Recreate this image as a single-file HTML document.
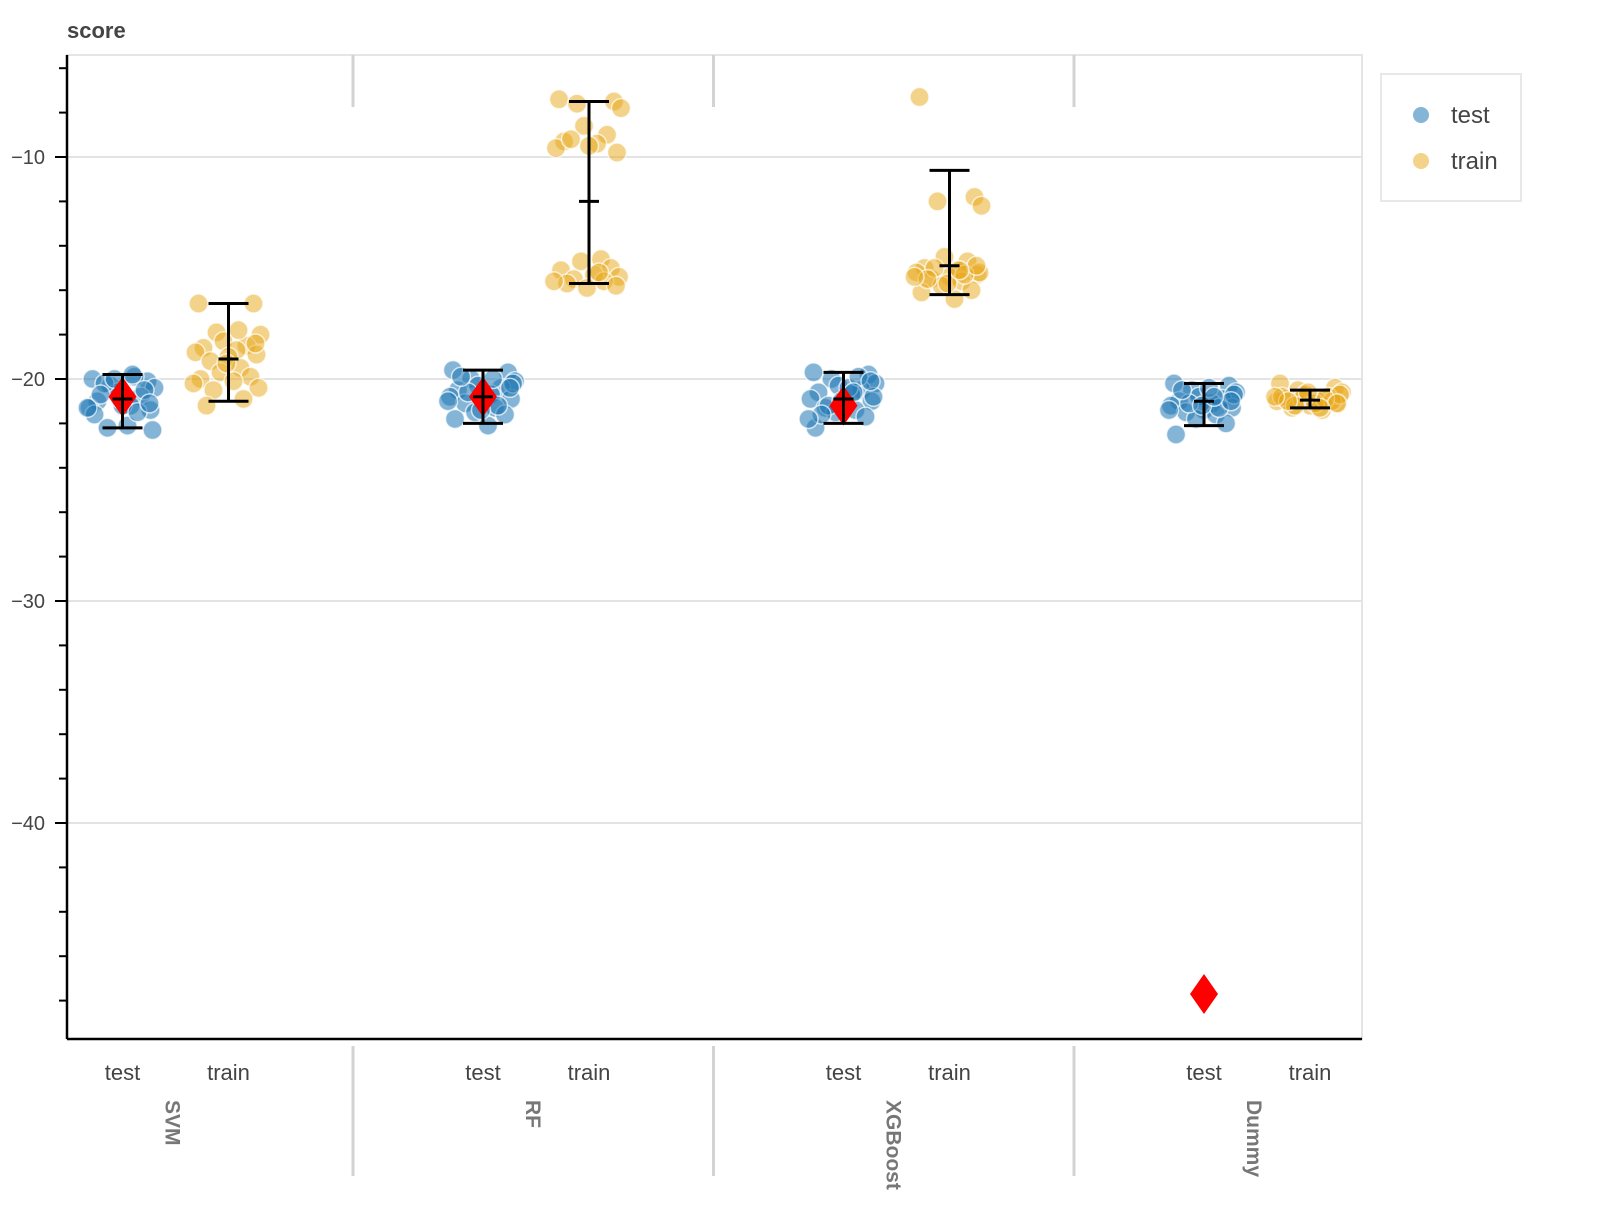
<!DOCTYPE html>
<html><head><meta charset="utf-8"><style>
body{margin:0;background:#fff;}
svg text{font-family:"Liberation Sans",Arial,sans-serif;}
</style></head><body>
<svg id="chart" width="1600" height="1200" xmlns="http://www.w3.org/2000/svg"></svg>
<script>
const groups=["SVM","RF","XGBoost","Dummy"];
const splits=["test","train"];
const yTicks=[-10,-20,-30,-40];
const svmTest=[-20.0,-20.1,-20.3,-20.4,-20.6,-20.8,-21.0,-21.2,-21.3,-21.4,-21.2,-20.2,-19.9,-20.0,-20.5,-21.6,-22.1,-22.3,-22.2,-21.5,-20.7,-21.1,-20.9,-19.8,-21.3];
const svmTrain=[-16.6,-16.6,-17.9,-18.0,-18.3,-18.5,-18.6,-18.7,-18.8,-18.9,-19.0,-19.2,-19.5,-19.7,-19.9,-20.0,-20.1,-20.4,-20.5,-20.9,-21.2,-18.4,-19.3,-17.8,-20.2];
const rfTest=[-19.6,-19.7,-20.0,-20.1,-20.3,-20.4,-20.5,-20.7,-20.8,-20.9,-21.0,-21.1,-21.3,-21.5,-21.6,-21.8,-22.1,-20.2,-20.6,-21.2,-19.9,-20.4,-21.4,-20.0,-21.0];
const rfTrain=[-7.4,-7.5,-7.6,-7.8,-8.6,-9.0,-9.3,-9.4,-9.6,-9.8,-9.5,-9.2,-14.6,-14.7,-15.0,-15.1,-15.3,-15.4,-15.5,-15.6,-15.7,-15.8,-15.9,-15.2,-15.6];
const xgbTest=[-19.7,-19.8,-20.0,-20.2,-20.3,-20.5,-20.6,-20.7,-20.9,-21.0,-21.1,-21.3,-21.4,-21.5,-21.7,-22.2,-20.4,-20.8,-21.2,-19.9,-21.6,-20.1,-21.0,-20.6,-21.8];
const xgbTrain=[-7.3,-11.8,-12.0,-12.2,-14.5,-14.7,-15.0,-15.1,-15.2,-15.3,-15.4,-15.5,-15.6,-15.8,-16.0,-16.1,-16.4,-15.2,-15.0,-15.3,-15.5,-14.9,-15.7,-15.1,-15.4];
const dumTest=[-20.2,-20.3,-20.5,-20.6,-20.8,-20.9,-21.0,-21.1,-21.2,-21.3,-21.4,-21.5,-21.6,-21.8,-22.0,-22.5,-20.4,-20.7,-21.1,-21.3,-20.5,-21.0,-21.2,-20.8,-21.4];
const dumTrain=[-20.2,-20.4,-20.5,-20.6,-20.7,-20.8,-20.9,-21.0,-21.0,-21.1,-21.2,-21.3,-21.4,-20.9,-21.0,-20.8,-21.1,-20.7,-21.2,-20.9,-21.0,-21.1,-20.6,-21.3,-20.8];
const jitter=[-0.30,0.25,-0.12,0.32,-0.05,0.18,-0.25,0.08,-0.33,0.28,0.0,-0.18,0.12,-0.08,0.22,-0.28,0.05,0.30,-0.15,0.15,-0.22,0.27,-0.02,0.10,-0.35];
const errTop=[[-19.8,-16.6],[-19.6,-7.5],[-19.7,-10.6],[-20.2,-20.5]];
const errBot=[[-22.2,-21.0],[-22.0,-15.7],[-22.0,-16.2],[-22.1,-21.3]];
const errMean=[[-20.9,-19.1],[-20.8,-12.0],[-20.9,-14.9],[-21.0,-20.95]];
const diamonds=[-20.8,-20.8,-21.2,-47.7];
const series=[[svmTest,svmTrain],[rfTest,rfTrain],[xgbTest,xgbTrain],[dumTest,dumTrain]];

const NS="http://www.w3.org/2000/svg";
const svg=document.getElementById("chart");
const L=67,R=1362,T=55,B=1039;
const GW=360.5,G0=-7.5;
const y=v=>157+(-10-v)*22.2;
const x=(g,s)=>G0+130+g*GW+s*106;
function mk(tag,at,parent){const e=document.createElementNS(NS,tag);for(const k in at)e.setAttribute(k,at[k]);(parent||svg).appendChild(e);return e;}

const frame=mk("rect",{x:L,y:T,width:R-L,height:B-T,fill:"none",stroke:"#e5e5e5","stroke-width":2});


yTicks.forEach(t=>{
 const g=mk("line",{x1:L,x2:R,y1:y(t),y2:y(t),stroke:"#e3e3e3","stroke-width":2});
 
 
 const tk=mk("line",{x1:L-12,x2:L,y1:y(t),y2:y(t),stroke:"#000","stroke-width":2});
 
 
 const lb=mk("text",{x:45,y:y(t)+7,"text-anchor":"end","font-size":20,fill:"#444"});
 lb.textContent="\u2212"+Math.abs(t);
 
 
});
for(let v=-6;v>=-48;v-=2){if(v%10===0)continue;
 const tk=mk("line",{x1:L-8,x2:L,y1:y(v),y2:y(v),stroke:"#000","stroke-width":2});
 
 
}
const ax=mk("line",{x1:L,x2:L,y1:T,y2:B,stroke:"#000","stroke-width":2.5});


const bx=mk("line",{x1:L,x2:R,y1:B,y2:B,stroke:"#000","stroke-width":2.5});


const ttl=mk("text",{x:67,y:38,"font-size":22,"font-weight":"bold",fill:"#444"});
ttl.textContent="score";



for(let i=1;i<4;i++){
 const sx=G0+i*GW;
 const s1=mk("line",{x1:sx,x2:sx,y1:T,y2:107,stroke:"#d3d3d3","stroke-width":3});
 
 
 const s2=mk("line",{x1:sx,x2:sx,y1:1046,y2:1176,stroke:"#d3d3d3","stroke-width":3});
 
 
}
const colors=[["rgba(31,119,180,0.55)"],["rgba(232,165,20,0.5)"]];
groups.forEach((gname,g)=>{
 splits.forEach((sp,s)=>{
  const lb=mk("text",{x:x(g,s),y:1080,"text-anchor":"middle","font-size":22,fill:"#444"});
  lb.textContent=sp;
  
  
  series[g][s].forEach((v,i)=>{
   const c=mk("circle",{cx:x(g,s)+jitter[i]*100,cy:y(v),r:9.5,fill:colors[s][0],stroke:"rgba(255,255,255,0.7)","stroke-width":1.5});
   
   
  });
 });
 const gl=mk("text",{transform:`translate(${G0+g*GW+173},1100) rotate(90)`,"font-size":21,"font-weight":"bold",fill:"#777"});
 gl.textContent=gname;
 
 
 const dx=x(g,0),dy=y(diamonds[g]);
 const d=mk("polygon",{points:`${dx},${dy-20} ${dx+14},${dy} ${dx},${dy+20} ${dx-14},${dy}`,fill:"#ff0000"});
 
 
 splits.forEach((sp,s)=>{
  const cx=x(g,s),t=y(errTop[g][s]),b=y(errBot[g][s]),m=y(errMean[g][s]);
  const e=mk("g",{stroke:"#000","stroke-width":3});
  
  
  mk("line",{x1:cx,x2:cx,y1:t,y2:b},e);
  mk("line",{x1:cx-20,x2:cx+20,y1:t,y2:t},e);
  mk("line",{x1:cx-20,x2:cx+20,y1:b,y2:b},e);
  mk("line",{x1:cx-10,x2:cx+10,y1:m,y2:m},e);
 });
});
const lg=mk("g",{});


mk("rect",{x:1381,y:74,width:140,height:127,fill:"#fff",stroke:"#e8e8e8","stroke-width":2},lg);
splits.forEach((sp,s)=>{
 const cy=115+s*46;
 const c=mk("circle",{cx:1421,cy:cy,r:8,fill:colors[s][0]},lg);
 
 
 const t=mk("text",{x:1451,y:cy+8,"font-size":24,fill:"#444"},lg);
 t.textContent=sp;
 
 
});
</script>
</body></html>
